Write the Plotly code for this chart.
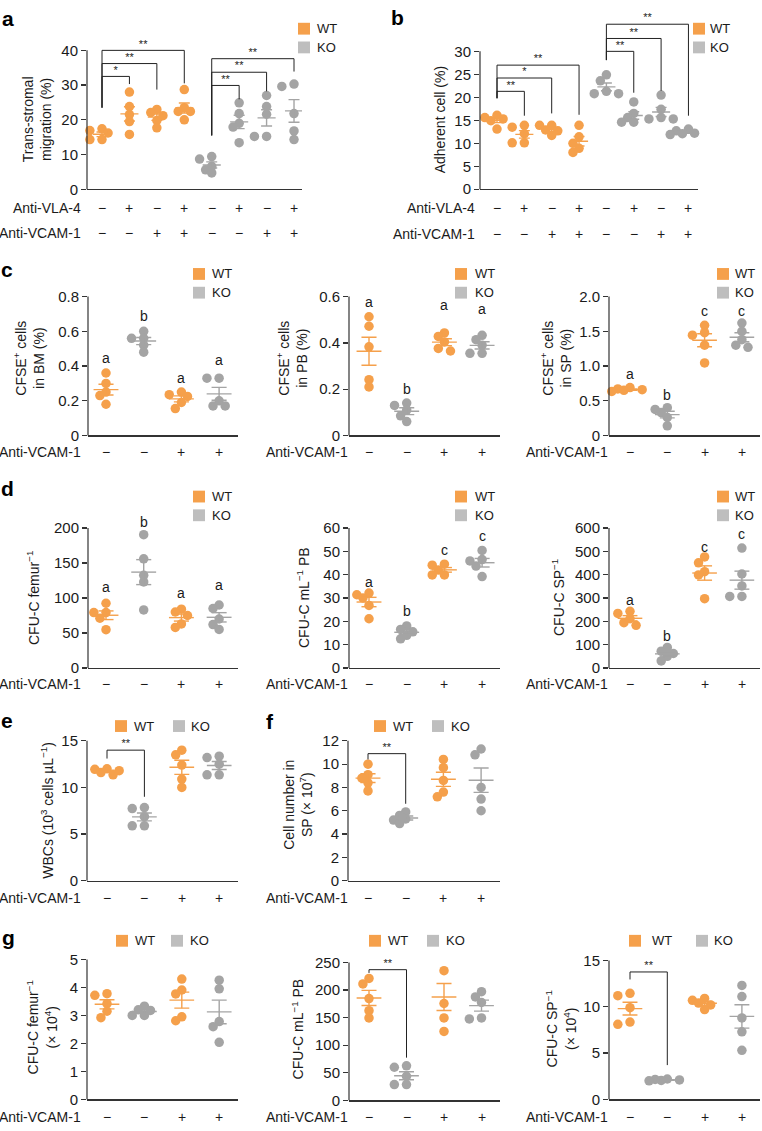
import numpy as np
import plotly.graph_objects as go

W, H = 762, 1131
ORANGE = '#F5A04B'
GRAY = '#A4A4A4'
GRAY_KEY = '#BEBEBE'
AXC = '#333333'
TXT = '#1a1a1a'
FONT = 'Liberation Sans, Arial, Helvetica, sans-serif'
M, P = '\u2212', '+'
TICK_FS, LAB_FS, KEY_FS = 15, 14, 13

# ---------------- data ----------------
# a: trans-stromal migration (%)
a_geno = ['WT', 'WT', 'WT', 'WT', 'KO', 'KO', 'KO', 'KO']
a_vla = [M, P, M, P, M, P, M, P]
a_vcam = [M, M, P, P, M, M, P, P]
a_vals = [
    [17.4, 16.9, 16.2, 14.3, 14.3],
    [28.0, 23.8, 21.5, 19.5, 15.8],
    [23.0, 22.1, 21.2, 19.8, 17.7],
    [28.7, 23.5, 22.4, 22.4, 20.0],
    [9.4, 8.7, 6.6, 5.6, 4.7],
    [24.9, 21.8, 19.0, 17.9, 13.4],
    [27.0, 23.8, 21.6, 15.2, 15.2],
    [29.6, 30.3, 21.8, 16.8, 14.3],
]
# (left group, right group, bar height, left leg end, right leg end, label)
a_sig = [(0, 1, 32.5, 23.5, 30.3, '*'), (0, 2, 36.2, 23.5, 28.7, '**'),
         (0, 3, 40.0, 23.5, 30.5, '**'), (4, 5, 29.9, 15.5, 25.9, '**'),
         (4, 6, 33.7, 15.5, 28.2, '**'), (4, 7, 37.6, 15.5, 33.9, '**')]

# b: adherent cell (%)
b_vals = [
    [16.1, 15.6, 15.3, 14.9, 13.1],
    [13.5, 13.9, 12.1, 10.1, 10.1],
    [13.9, 13.9, 12.9, 12.7, 11.7],
    [13.9, 11.4, 10.0, 8.9, 8.0],
    [24.9, 23.6, 21.3, 20.8, 20.8],
    [19.0, 16.5, 15.6, 14.6, 14.6],
    [20.5, 17.4, 15.6, 15.3, 15.3],
    [13.1, 12.7, 12.2, 12.1, 11.9],
]
b_sig = [(0, 1, 21.3, 19.8, 16.0, '**'), (0, 2, 24.2, 19.8, 16.5, '*'),
         (0, 3, 27.0, 19.8, 16.2, '**'), (4, 5, 30.0, 28.1, 21.0, '**'),
         (4, 6, 32.8, 28.1, 21.4, '**'), (4, 7, 35.9, 28.1, 16.0, '**')]

# c-g: four groups
cg_geno = ['WT', 'KO', 'WT', 'KO']
cg_vcam = [M, M, P, P]

c1_vals = [[0.36, 0.30, 0.25, 0.23, 0.18], [0.60, 0.56, 0.56, 0.52, 0.48],
           [0.25, 0.235, 0.225, 0.19, 0.155], [0.33, 0.33, 0.20, 0.17, 0.17]]
c1_tag = ['a', 'b', 'a', 'a']
c1_tag_y = [0.446, 0.687, 0.33, 0.433]
c2_vals = [[0.513, 0.472, 0.383, 0.241, 0.21], [0.14, 0.13, 0.11, 0.085, 0.06],
           [0.443, 0.428, 0.404, 0.376, 0.365], [0.433, 0.414, 0.39, 0.355, 0.355]]
c2_tag = ['a', 'b', 'a', 'a']
c2_tag_y = [0.577, 0.199, 0.563, 0.546]
c3_vals = [[0.69, 0.67, 0.66, 0.65, 0.635], [0.40, 0.376, 0.33, 0.26, 0.14],
           [1.586, 1.48, 1.445, 1.30, 1.045], [1.62, 1.50, 1.38, 1.30, 1.27]]
c3_tag = ['a', 'b', 'c', 'c']
c3_tag_y = [0.88, 0.58, 1.79, 1.79]

d1_vals = [[92.5, 79.2, 79.2, 71.2, 54.7], [190.6, 156, 132.5, 123, 83],
           [84, 80, 75, 63, 58], [90, 85, 70, 62, 55]]
d1_tag = ['a', 'b', 'a', 'a']
d1_tag_y = [116, 209, 106.6, 118]
d2_vals = [[32.1, 31.4, 30.0, 26.8, 21.1], [18.0, 16.5, 15.5, 14.0, 12.5],
           [44.5, 44.1, 42.0, 39.9, 39.9], [50.4, 46.5, 45.9, 43.7, 39.2]]
d2_tag = ['a', 'b', 'c', 'c']
d2_tag_y = [37, 24.4, 50.7, 56.8]
d3_vals = [[243, 234, 211, 194, 183], [88, 72, 62, 50, 30],
           [476, 451, 413, 399, 297], [514, 403, 352, 307, 307]]
d3_tag = ['a', 'b', 'c', 'c']
d3_tag_y = [293, 138, 518, 575]

e_vals = [[12.0, 11.95, 11.8, 11.6, 11.35], [7.84, 7.74, 6.86, 5.88, 5.88],
          [14.0, 13.5, 12.4, 10.9, 10.0], [13.35, 13.2, 12.5, 11.35, 11.35]]
e_sig = [(0, 1, 14.0, 13.1, 9.0, '**')]
f_vals = [[10.0, 9.1, 8.8, 8.4, 7.7], [5.9, 5.6, 5.3, 5.2, 4.9],
          [10.4, 9.7, 8.6, 7.6, 7.2], [11.3, 10.8, 8.0, 7.0, 6.0]]
f_sig = [(0, 1, 10.9, 10.4, 6.6, '**')]

g1_vals = [[3.78, 3.72, 3.42, 3.15, 2.92], [3.33, 3.2, 3.18, 3.0, 3.0],
           [4.3, 3.91, 3.77, 2.95, 2.81], [4.26, 3.95, 2.78, 2.6, 2.04]]
g2_vals = [[221, 211, 184.5, 162.5, 149.4], [62.5, 60, 43.5, 28.6, 28.6],
           [251.8, 235, 175.6, 149.4, 125], [197, 187.5, 177.4, 149.4, 147.6]]
g2_sig = [(0, 1, 236.9, 231, 77.4, '**')]
g3_vals = [[11.45, 11.2, 9.9, 8.35, 8.1], [2.2, 2.15, 2.1, 2.05, 2.0],
           [10.9, 10.7, 10.4, 10.2, 9.7], [12.3, 11.1, 8.8, 7.3, 5.3]]
g3_sig = [(0, 1, 13.76, 12.95, 3.7, '**')]

# ---------------- drawing ----------------
fig = go.Figure()


def ax_names(n):
    s = '' if n == 1 else str(n)
    return 'x' + s, 'y' + s, 'xaxis' + s, 'yaxis' + s


def swarm(vals, kx, ky, d=9.5):
    # simple beeswarm in pixel space, returns x offsets in category units
    placed, offs = [], [0.0] * len(vals)
    for i in sorted(range(len(vals)), key=lambda k: -vals[k]):
        yp = vals[i] * ky
        best, best_gap = 0.0, -1.0
        for c in (0, -1, 1, -2, 2, -3, 3):
            xp = c * 0.64 * d
            gap = min([((xp - a) ** 2 + (yp - b) ** 2) ** 0.5 for a, b in placed] or [99])
            if gap >= 0.7 * d:
                best = xp
                break
            if gap > best_gap:
                best, best_gap = xp, gap
        placed.append((best, yp))
        offs[i] = best / kx
    return offs


def panel(n, g, vals, geno, tickvals, ticktext=None, tags=None, tag_y=None, sig=()):
    xa, ya, xk, yk = ax_names(n)
    kx = g['step']
    ky = (g['y0'] - g['yt']) / g['ymax']
    yext = g.get('yext', g['ymax'])
    top = g['y0'] - yext * ky
    fig.update_layout(**{
        xk: dict(domain=[g['xl'] / W, g['xr'] / W],
                 range=[(g['xl'] - g['c0']) / kx, (g['xr'] - g['c0']) / kx],
                 anchor=ya, showline=True, linecolor=AXC, linewidth=1.2,
                 ticks='', showticklabels=False, showgrid=False, zeroline=False),
        yk: dict(domain=[1 - g['y0'] / H, 1 - top / H], range=[0, yext], anchor=xa,
                 showline=False, ticks='outside', ticklen=5, tickwidth=1.2, tickcolor=AXC,
                 tickmode='array', tickvals=tickvals,
                 ticktext=ticktext or [str(v) for v in tickvals],
                 tickfont=dict(size=TICK_FS, color=TXT), showgrid=False, zeroline=False),
    })
    fig.add_shape(type='line', xref=xa + ' domain', yref=ya + ' domain', x0=0, x1=0,
                  y0=0, y1=g['ymax'] / yext, line=dict(color=AXC, width=1.2))
    for i, (v, gt) in enumerate(zip(vals, geno)):
        col = ORANGE if gt == 'WT' else GRAY
        offs = swarm(v, kx, ky)
        fig.add_trace(go.Scatter(x=[i + o for o in offs], y=v, mode='markers',
                                 marker=dict(size=9.5, color=col), xaxis=xa, yaxis=ya,
                                 cliponaxis=False, hoverinfo='skip'))
        m = float(np.mean(v))
        s = float(np.std(v, ddof=1) / np.sqrt(len(v)))
        fig.add_trace(go.Scatter(
            x=[i - .33, i + .33, None, i, i, None, i - .2, i + .2, None, i - .2, i + .2],
            y=[m, m, None, m - s, m + s, None, m + s, m + s, None, m - s, m - s],
            mode='lines', line=dict(color=col, width=1.4), xaxis=xa, yaxis=ya,
            hoverinfo='skip'))
    if tags:
        for i, (t, ty) in enumerate(zip(tags, tag_y)):
            fig.add_annotation(x=i, y=ty, xref=xa, yref=ya, text=t, showarrow=False,
                               font=dict(size=LAB_FS, color=TXT), yanchor='middle')
    for gl, gr, yt, yl, yr, lab in sig:
        fig.add_trace(go.Scatter(x=[gl, gl, gr, gr], y=[yl, yt, yt, yr], mode='lines',
                                 line=dict(color='#222', width=1), xaxis=xa, yaxis=ya,
                                 hoverinfo='skip'))
        fig.add_trace(go.Scatter(x=[(gl + gr) / 2], y=[yt], mode='text', text=[lab],
                                 textposition='top center',
                                 textfont=dict(size=11, color='#222'),
                                 xaxis=xa, yaxis=ya, cliponaxis=False, hoverinfo='skip'))
    return xa


def sign_rows(xa, rows, lab_right):
    for signs, py, label in rows:
        fig.add_annotation(x=lab_right / W, y=1 - py / H, xref='paper', yref='paper',
                           text=label, showarrow=False, xanchor='right', yanchor='middle',
                           font=dict(size=LAB_FS, color=TXT))
        for i, sg in enumerate(signs):
            fig.add_annotation(x=i, y=1 - py / H, xref=xa, yref='paper', text=sg,
                               showarrow=False, yanchor='middle',
                               font=dict(size=LAB_FS, color=TXT))


def key(items, py):
    for xsq, xtxt, lab in items:
        col = ORANGE if lab == 'WT' else GRAY_KEY
        fig.add_shape(type='rect', xref='paper', yref='paper', x0=xsq / W, x1=(xsq + 12) / W,
                      y0=1 - (py + 6) / H, y1=1 - (py - 6) / H, fillcolor=col, line_width=0)
        fig.add_annotation(x=xtxt / W, y=1 - py / H, xref='paper', yref='paper', text=lab,
                           showarrow=False, xanchor='left', yanchor='middle',
                           font=dict(size=KEY_FS, color=TXT))


def ytitle(text, cx, cy):
    fig.add_annotation(x=cx / W, y=1 - cy / H, xref='paper', yref='paper', text=text,
                       textangle=-90, showarrow=False, xanchor='center', yanchor='middle',
                       font=dict(size=LAB_FS, color=TXT))


def letter(t, cx, cy):
    fig.add_annotation(x=cx / W, y=1 - cy / H, xref='paper', yref='paper',
                       text='<b>%s</b>' % t, showarrow=False, xanchor='center',
                       yanchor='middle', font=dict(size=21, color='#000'))


# panel a
xa = panel(1, dict(xl=87, xr=302, c0=102, step=27.43, y0=183, yt=42, ymax=40, yext=44),
           a_vals, a_geno, [0, 10, 20, 30, 40], sig=a_sig)
sign_rows(xa, [(a_vla, 202, 'Anti-VLA-4'), (a_vcam, 227, 'Anti-VCAM-1')], 83)
key([(298, 315, 'WT')], 20)
key([(298, 315, 'KO')], 39)
ytitle('Trans-stromal<br>migration (%)', 37, 112)
letter('a', 8, 10)

# panel b
xa = panel(2, dict(xl=480, xr=698, c0=497, step=27.35, y0=183, yt=43, ymax=30, yext=37.5),
           b_vals, a_geno, [0, 5, 10, 15, 20, 25, 30], sig=b_sig)
sign_rows(xa, [(a_vla, 202, 'Anti-VLA-4'), (a_vcam, 228, 'Anti-VCAM-1')], 477)
key([(693, 708, 'WT')], 20)
key([(693, 708, 'KO')], 39)
ytitle('Adherent cell (%)', 440, 113)
letter('b', 397, 9)

# panel c
cx = [dict(xl=88, xr=238, c0=106, step=37.7), dict(xl=349, xr=500, c0=369, step=37.7),
      dict(xl=609, xr=760, c0=630, step=37.3)]
c_lab_right = [83, 350, 610]
c_key_x = [(193, 210), (455, 473), (717, 733)]

c_specs = [
    (c1_vals, 0.8, [0, 0.2, 0.4, 0.6, 0.8], ['0', '0.2', '0.4', '0.6', '0.8'], c1_tag, c1_tag_y,
     'CFSE<sup>+</sup> cells<br>in BM (%)', 29),
    (c2_vals, 0.6, [0, 0.2, 0.4, 0.6], ['0', '0.2', '0.4', '0.6'], c2_tag, c2_tag_y,
     'CFSE<sup>+</sup> cells<br>in PB (%)', 292),
    (c3_vals, 2.0, [0, 0.5, 1.0, 1.5, 2.0], ['0', '0.5', '1.0', '1.5', '2.0'], c3_tag, c3_tag_y,
     'CFSE<sup>+</sup> cells<br>in SP (%)', 556),
]
for k, (vals, ymax, tv, tt, tg, tgy, title, tx) in enumerate(c_specs):
    g = dict(cx[k], y0=433, yt=292, ymax=ymax, yext=ymax * 1.08)
    xa = panel(3 + k, g, vals, cg_geno, tv, tt, tg, tgy)
    sign_rows(xa, [(cg_vcam, 450, 'Anti-VCAM-1')], c_lab_right[k])
    key([(c_key_x[k][0], c_key_x[k][1], 'WT')], 269)
    key([(c_key_x[k][0], c_key_x[k][1], 'KO')], 288)
    ytitle(title, tx, 355)
letter('c', 7, 264)

# panel d
d_specs = [
    (d1_vals, 200, [0, 50, 100, 150, 200], d1_tag, d1_tag_y, 'CFU-C femur<sup>\u22121</sup>', 33),
    (d2_vals, 60, [0, 10, 20, 30, 40, 50, 60], d2_tag, d2_tag_y, 'CFU-C mL<sup>\u22121</sup> PB', 303),
    (d3_vals, 600, [0, 100, 200, 300, 400, 500, 600], d3_tag, d3_tag_y, 'CFU-C SP<sup>\u22121</sup>', 558),
]
for k, (vals, ymax, tv, tg, tgy, title, tx) in enumerate(d_specs):
    g = dict(cx[k], y0=669, yt=527, ymax=ymax, yext=ymax * 1.1)
    xa = panel(6 + k, g, vals, cg_geno, tv, None, tg, tgy)
    sign_rows(xa, [(cg_vcam, 685, 'Anti-VCAM-1')], c_lab_right[k])
    key([(c_key_x[k][0], c_key_x[k][1], 'WT')], 495)
    key([(c_key_x[k][0], c_key_x[k][1], 'KO')], 514)
    ytitle(title, tx, 598)
letter('d', 7, 487)

# panel e
xa = panel(9, dict(xl=87, xr=238, c0=107, step=37.4, y0=885, yt=743, ymax=15),
           e_vals, cg_geno, [0, 5, 10, 15], sig=e_sig)
sign_rows(xa, [(cg_vcam, 903, 'Anti-VCAM-1')], 83)
key([(115, 132, 'WT'), (173, 189, 'KO')], 728)
ytitle('WBCs (10<sup>3</sup> cells \u00b5L<sup>\u22121</sup>)', 47, 814)
letter('e', 7, 722)

# panel f
xa = panel(10, dict(xl=348, xr=500, c0=368, step=37.7, y0=885, yt=743, ymax=12),
           f_vals, cg_geno, [0, 2, 4, 6, 8, 10, 12], sig=f_sig)
sign_rows(xa, [(cg_vcam, 903, 'Anti-VCAM-1')], 350)
key([(374, 391, 'WT'), (432, 449, 'KO')], 728)
ytitle('Cell number in<br>SP (\u00d7 10<sup>7</sup>)', 298, 808)
letter('f', 270, 723)

# panel g
xa = panel(11, dict(xl=87, xr=238, c0=107, step=37.4, y0=1107, yt=965, ymax=5),
           g1_vals, cg_geno, [0, 1, 2, 3, 4, 5])
sign_rows(xa, [(cg_vcam, 1125, 'Anti-VCAM-1')], 83)
key([(116, 133, 'WT'), (171, 188, 'KO')], 946)
ytitle('CFU-C femur<sup>\u22121</sup><br>(\u00d7 10<sup>4</sup>)', 42, 1034)

xa = panel(12, dict(xl=349, xr=500, c0=369, step=37.5, y0=1108, yt=968, ymax=250),
           g2_vals, cg_geno, [0, 50, 100, 150, 200, 250], sig=g2_sig)
sign_rows(xa, [(cg_vcam, 1125, 'Anti-VCAM-1')], 350)
key([(369, 386, 'WT'), (427, 444, 'KO')], 946)
ytitle('CFU-C mL<sup>\u22121</sup> PB', 298, 1036)

xa = panel(13, dict(xl=609, xr=760, c0=630, step=37.3, y0=1107, yt=966, ymax=15),
           g3_vals, cg_geno, [0, 5, 10, 15], sig=g3_sig)
sign_rows(xa, [(cg_vcam, 1125, 'Anti-VCAM-1')], 610)
key([(629, 650, 'WT'), (696, 712, 'KO')], 946)
ytitle('CFU-C SP<sup>\u22121</sup><br>(\u00d7 10<sup>4</sup>)', 561, 1036)
letter('g', 8, 943)

fig.update_layout(width=W, height=H, margin=dict(l=0, r=0, t=0, b=0),
                  paper_bgcolor='white', plot_bgcolor='white', showlegend=False,
                  hovermode=False, font=dict(family=FONT, color=TXT, size=13))
fig.write_html('out.html', config={'displayModeBar': False, 'staticPlot': True},
               post_script="document.body.style.margin='0px';"
                           "document.body.style.overflow='hidden';")
